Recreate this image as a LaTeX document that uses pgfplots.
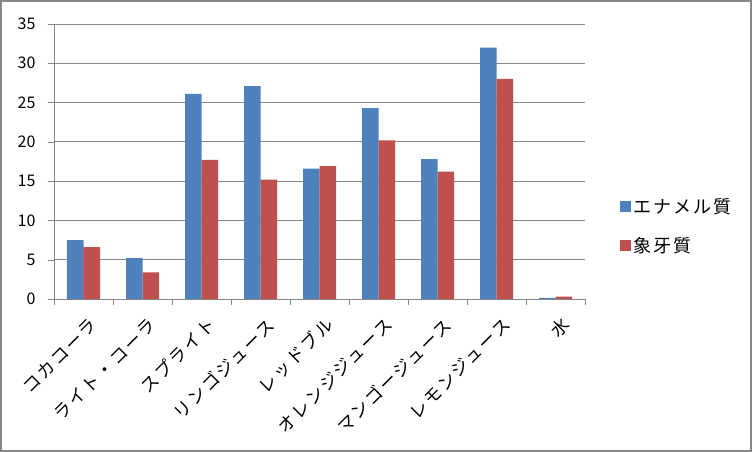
\documentclass[border=0pt]{standalone}
\usepackage{fontspec}
\setmainfont{Noto Sans CJK JP}
\newfontfamily\jpwide[LetterSpace=12]{Noto Sans CJK JP}
\usepackage{pgfplots}
\pgfplotsset{compat=1.18}
\definecolor{enamel}{RGB}{79,129,189}
\definecolor{ivory}{RGB}{192,80,77}
\definecolor{gridgray}{RGB}{134,134,134}
\definecolor{framegray}{RGB}{134,134,134}

\pgfplotstableread{
x enamel ivory
0 7.5  6.6
1 5.2  3.4
2 26.1 17.7
3 27.1 15.2
4 16.6 16.9
5 24.3 20.2
6 17.8 16.2
7 32.0 28.0
8 0.15 0.3
}\drinks

\begin{document}
\begin{tikzpicture}[x=1pt,y=1pt]
\useasboundingbox (0,0) rectangle (752,452);
\draw[framegray, line width=2pt] (1,1) rectangle (751,451);
\begin{axis}[
  at={(54pt,153pt)}, anchor=south west,
  width=531pt, height=275pt, scale only axis,
  font=\fontsize{16}{19}\selectfont,
  /pgf/number format/assume math mode=true,
  ybar=0pt, bar width=16.5pt,
  xmin=-0.5, xmax=8.5,
  ymin=0, ymax=35,
  ytick={0,5,...,35},
  xtick={0,...,8},
  xticklabels={コカコーラ,ライト・コーラ,スプライト,リンゴジュース,レッドブル,オレンジジュース,マンゴージュース,レモンジュース,水},
  minor xtick={-0.5,0.5,...,8.5},
  axis lines*=left,
  axis line style={gridgray},
  ymajorgrids, grid style={gridgray, line width=0.8pt},
  tick align=outside,
  major tick length=6pt, minor tick length=6pt,
  major x tick style={draw=none},
  minor x tick style={gridgray},
  major y tick style={gridgray},
  yticklabel style={xshift=-9pt},
  xticklabel style={rotate=45, anchor=east, yshift=-19pt, xshift=-1pt,
    font=\jpwide\fontsize{17.5}{20}\selectfont},
  legend style={at={(1.060,0.265)}, anchor=west, draw=none, fill=none,
    row sep=18pt, font=\jpwide\fontsize{18}{20}\selectfont},
  legend cell align=left,
  legend image code/.code={\fill[#1] (0pt,-5.5pt) rectangle (11pt,5.5pt);},
]
\addplot[fill=enamel, draw=none] table[x=x, y=enamel] {\drinks};
\addplot[fill=ivory, draw=none] table[x=x, y=ivory] {\drinks};
\legend{エナメル質,象牙質}
\end{axis}
\end{tikzpicture}
\end{document}
